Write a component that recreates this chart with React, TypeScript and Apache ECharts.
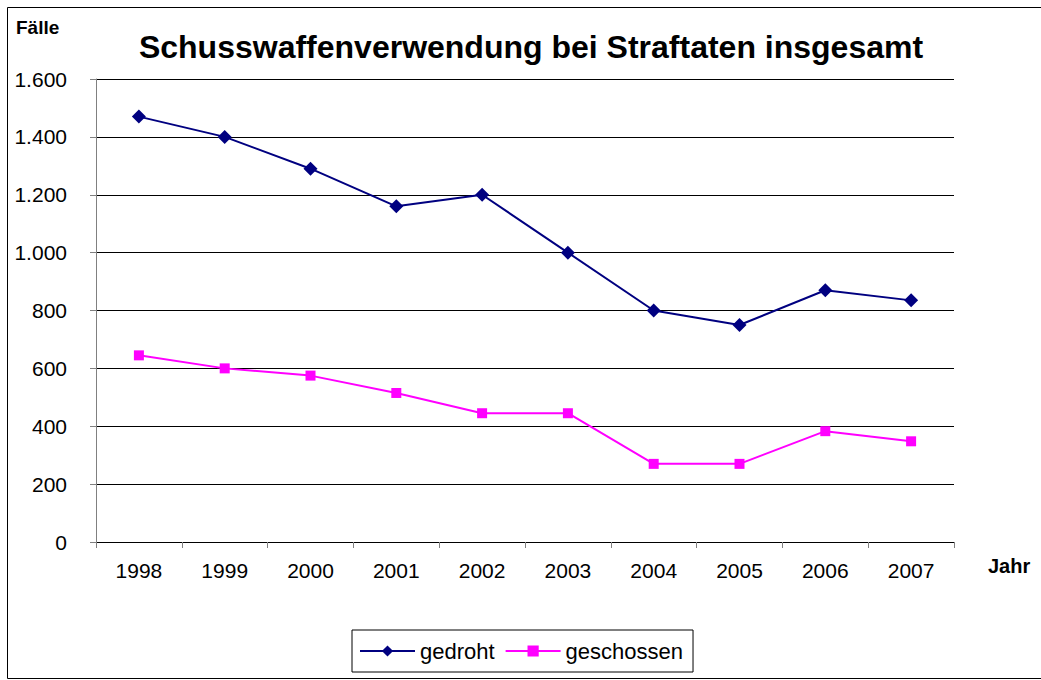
import React, { useEffect, useRef } from "react";
import * as echarts from "echarts";

const years = ["1998", "1999", "2000", "2001", "2002", "2003", "2004", "2005", "2006", "2007"];
const gedroht = [1470, 1400, 1290, 1160, 1200, 1000, 800, 750, 870, 835];
const geschossen = [645, 600, 575, 515, 445, 445, 270, 270, 383, 348];

const FONT = "Liberation Sans, Arial, sans-serif";

function fmt(v: number): string {
  const s = String(Math.round(v));
  return s.replace(/\B(?=(\d{3})+(?!\d))/g, ".");
}

export default function App() {
  const ref = useRef<HTMLDivElement>(null);
  useEffect(() => {
    document.body.style.margin = "0";
    const chart = echarts.init(ref.current!, null, { renderer: "svg" });
    chart.setOption({
      animation: false,
      backgroundColor: "#ffffff",
      textStyle: { fontFamily: FONT },
      title: {
        text: "Schusswaffenverwendung bei Straftaten insgesamt",
        left: 531,
        textAlign: "center",
        top: 31,
        padding: 0,
        textStyle: { fontSize: 32, fontWeight: "bold", color: "#000", fontFamily: FONT },
      },
      graphic: [
        {
          type: "rect",
          shape: { x: 7.5, y: 7.5, width: 1040, height: 671 },
          style: { fill: "none", stroke: "#000", lineWidth: 1 },
          silent: true,
        },
        {
          type: "text",
          left: 16,
          top: 18,
          style: { text: "Fälle", fontSize: 19, fontWeight: "bold", fill: "#000", fontFamily: FONT },
        },
        {
          type: "text",
          left: 988,
          top: 556,
          style: { text: "Jahr", fontSize: 20, fontWeight: "bold", fill: "#000", fontFamily: FONT },
        },
      ],
      legend: {
        left: 352,
        top: 630,
        itemWidth: 55,
        itemHeight: 14,
        itemGap: 10,
        padding: [10, 10, 10, 7],
        borderColor: "#000",
        borderWidth: 1,
        textStyle: { fontSize: 22, color: "#000", fontFamily: FONT },
        data: ["gedroht", "geschossen"],
      },
      grid: { left: 96, top: 79, width: 858, height: 463, containLabel: false },
      xAxis: {
        type: "category",
        data: years,
        boundaryGap: true,
        axisLine: { lineStyle: { color: "#000", width: 1 } },
        axisTick: { show: true, length: 6, lineStyle: { color: "#808080" } },
        axisLabel: { fontSize: 21, color: "#000", margin: 18, fontFamily: FONT },
      },
      yAxis: {
        type: "value",
        min: 0,
        max: 1600,
        interval: 200,
        axisLine: { show: true, lineStyle: { color: "#808080", width: 1 } },
        axisTick: { show: true, length: 6, inside: false, lineStyle: { color: "#808080" } },
        axisLabel: { fontSize: 21, color: "#000", margin: 29, fontFamily: FONT, formatter: (v: number) => fmt(v) },
        splitLine: { show: true, lineStyle: { color: "#000", width: 1 } },
      },
      series: [
        {
          name: "gedroht",
          type: "line",
          data: gedroht,
          symbol: "diamond",
          symbolSize: 14,
          itemStyle: { color: "#000080" },
          lineStyle: { color: "#000080", width: 2 },
        },
        {
          name: "geschossen",
          type: "line",
          data: geschossen,
          symbol: "rect",
          symbolSize: 10,
          itemStyle: { color: "#ff00ff" },
          lineStyle: { color: "#ff00ff", width: 2 },
        },
      ],
    });
    return () => chart.dispose();
  }, []);
  return <div ref={ref} style={{ width: 1041, height: 680 }} />;
}
